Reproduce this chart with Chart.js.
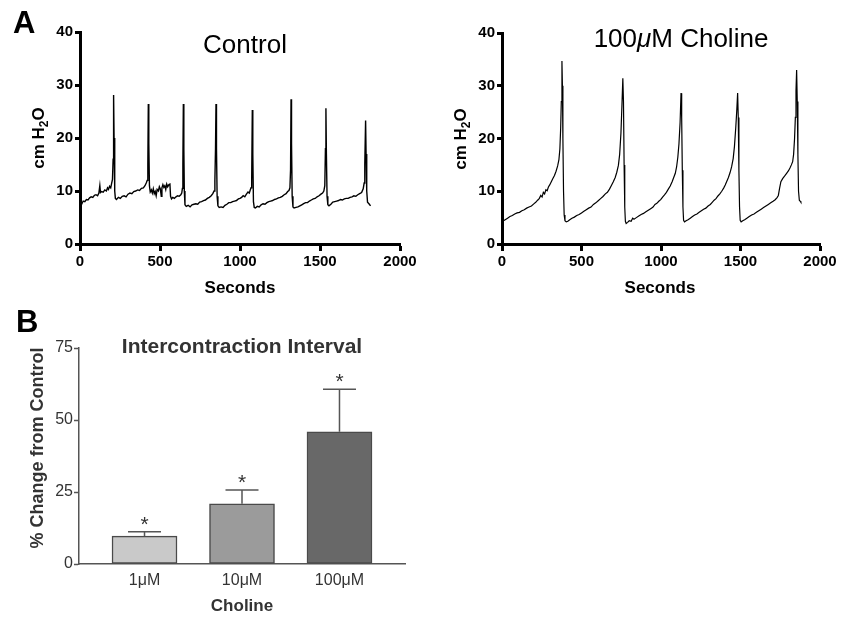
<!DOCTYPE html>
<html>
<head>
<meta charset="utf-8">
<script src="https://cdn.jsdelivr.net/npm/chart.js@4.4.0/dist/chart.umd.min.js"></script>
<style>
  body { margin: 0; background: #fff; width: 841px; height: 618px; position: relative; overflow: hidden; }
  .panel { position: absolute; }
</style>
</head>
<body>
<div class="panel" style="left:0;top:0;width:420px;height:300px"><canvas id="controlChart"></canvas></div>
<div class="panel" style="left:420px;top:0;width:421px;height:300px"><canvas id="cholineChart"></canvas></div>
<div class="panel" style="left:0;top:300px;width:420px;height:318px"><canvas id="intervalChart"></canvas></div>
<script>
// --- data ---
// control trace: seconds / cm H2O
const controlTime = [
  0, 5, 12, 20, 30, 40, 50, 60, 70, 80, 90, 100, 110, 118, 124, 128, 135, 145, 155, 165, 172, 178, 185, 192, 198, 203, 207, 210, 213, 217, 221,
  228, 240, 252, 264, 276, 288, 300, 312, 324, 336, 348, 360, 372, 384, 396, 406, 414, 420, 424, 427, 430, 434, 439,
  446, 452, 458, 464, 470, 476, 482, 490, 496, 502, 508, 512, 518, 524, 530, 536, 542, 548, 556, 562, 566, 572,
  580, 590, 600, 610, 620, 630, 636, 640, 643, 646, 649, 652, 656,
  664, 676, 688, 700, 712, 724, 736, 748, 760, 772, 784, 796, 808, 820, 830, 838, 843, 847, 850, 853, 857, 862,
  870, 882, 894, 906, 918, 930, 942, 954, 966, 978, 990, 1000, 1010, 1020, 1030, 1040, 1050, 1058, 1064, 1069, 1073, 1077, 1080, 1084, 1089,
  1096, 1108, 1120, 1132, 1144, 1156, 1168, 1180, 1192, 1204, 1216, 1228, 1240, 1252, 1264, 1276, 1288, 1298, 1306, 1312, 1316, 1319, 1322, 1326, 1331,
  1338, 1350, 1362, 1374, 1386, 1398, 1410, 1422, 1434, 1446, 1458, 1470, 1482, 1494, 1506, 1516, 1524, 1530, 1534, 1537, 1540, 1544, 1549,
  1556, 1568, 1580, 1592, 1604, 1616, 1628, 1640, 1652, 1664, 1676, 1688, 1700, 1712, 1724, 1736, 1748, 1760, 1770, 1776, 1780, 1785, 1788, 1792, 1797,
  1806, 1816
];
const controlPressure = [
  7.4, 7.9, 7.6, 8.1, 8.0, 8.4, 8.3, 8.7, 8.9, 8.8, 9.2, 9.3, 9.1, 9.6, 11.0, 9.7, 9.9, 9.8, 10.2, 10.0, 10.6, 10.3, 10.9, 10.6, 11.5, 12.2, 16, 28.1, 20, 10, 8.6,
  8.4, 8.8, 8.6, 9.0, 9.1, 8.9, 9.4, 9.6, 9.5, 9.9, 10.0, 10.2, 10.1, 10.5, 10.6, 11.0, 11.5, 12.0, 15, 26.4, 19, 11, 9.8,
  10.2, 9.6, 10.4, 9.5, 9.9, 9.1, 10.3, 10.0, 10.8, 10.4, 9.0, 10.6, 11.2, 10.7, 11.0, 10.3, 11.3, 10.8, 11.2, 11.3, 9.0, 8.5,
  8.8, 8.6, 8.9, 9.1, 9.0, 9.3, 9.6, 10.5, 15, 26.4, 18, 10, 7.4,
  7.1, 7.3, 7.0, 7.4, 7.5, 7.6, 7.5, 7.9, 8.0, 8.2, 8.3, 8.6, 8.8, 9.1, 9.5, 10.0, 12, 18, 26.4, 18, 9, 7.2,
  6.9, 7.0, 6.9, 7.3, 7.5, 7.8, 7.8, 8.0, 8.1, 8.2, 8.5, 8.6, 8.8, 9.1, 8.9, 9.4, 9.8, 9.6, 10.2, 10.6, 12, 25.3, 17, 8, 6.9,
  6.8, 7.1, 7.0, 7.4, 7.6, 7.5, 7.8, 8.0, 8.1, 8.2, 8.4, 8.5, 8.7, 8.8, 9.0, 9.3, 9.5, 9.9, 10.1, 10.6, 14, 27.3, 19, 9, 7.0,
  6.8, 6.9, 7.0, 7.2, 7.4, 7.6, 7.8, 7.8, 8.1, 8.3, 8.5, 8.6, 8.9, 9.1, 9.4, 9.6, 10.0, 11, 18, 25.6, 17, 9, 7.4,
  7.2, 7.5, 7.9, 8.0, 8.1, 8.2, 8.4, 8.3, 8.5, 8.6, 8.6, 8.8, 8.9, 9.1, 9.0, 9.3, 9.5, 9.7, 10.4, 11.5, 15, 23.3, 17, 10, 7.9,
  7.6, 7.2
];

// 100 uM choline trace: seconds / cm H2O
const cholineTime = [
  0, 10, 20, 35, 50, 65, 80, 95, 110, 125, 140, 155, 170, 185, 200, 212, 224, 234, 244, 252, 260, 268, 276, 284, 292, 300, 310, 320, 330, 340, 350, 358, 364, 369, 373, 377, 380, 383, 387, 391,
  396, 404, 414, 426, 440, 455, 470, 485, 500, 515, 530, 545, 560, 575, 590, 605, 620, 635, 650, 663, 676, 688, 700, 712, 722, 732, 740, 748, 754, 760, 764, 768, 772, 776,
  781, 790, 800, 812, 822, 830, 845, 860, 875, 890, 905, 920, 935, 950, 962, 974, 986, 998, 1010, 1022, 1034, 1046, 1058, 1070, 1080, 1090, 1098, 1106, 1113, 1120, 1126, 1130, 1134, 1138, 1142,
  1148, 1158, 1170, 1184, 1198, 1212, 1226, 1240, 1254, 1268, 1282, 1296, 1310, 1322, 1334, 1346, 1358, 1370, 1382, 1394, 1404, 1414, 1424, 1434, 1444, 1454, 1462, 1470, 1476, 1482, 1486, 1490, 1494, 1498,
  1504, 1514, 1526, 1540, 1555, 1570, 1585, 1600, 1615, 1630, 1645, 1660, 1675, 1690, 1705, 1718, 1730, 1738, 1746, 1754, 1765, 1778, 1790, 1802, 1811, 1820, 1828, 1834, 1840, 1845, 1849, 1853, 1857, 1861, 1865, 1870,
  1876, 1880
];
const cholinePressure = [
  4.3, 4.4, 4.6, 4.9, 5.2, 5.4, 5.7, 5.9, 6.0, 6.3, 6.5, 6.8, 7.0, 7.2, 7.6, 7.9, 8.3, 8.6, 9.2, 8.9, 9.8, 9.5, 10.3, 10.1, 10.8, 11.2, 11.8, 12.4, 13.0, 13.8, 14.8, 16.0, 18, 22, 27, 34.7, 30, 20, 10, 5.5,
  4.4, 4.2, 4.3, 4.6, 4.9, 5.1, 5.4, 5.6, 5.9, 6.2, 6.5, 6.8, 7.0, 7.5, 7.8, 8.2, 8.6, 9.0, 9.5, 9.8, 10.4, 11.1, 11.8, 12.6, 13.6, 14.9, 17, 21, 26, 31.4, 27, 15, 7, 4.3,
  3.9, 4.1, 4.4, 4.3, 4.9, 4.7, 5.0, 5.3, 5.6, 5.8, 6.1, 6.4, 6.7, 7.0, 7.5, 7.7, 8.1, 8.4, 8.9, 9.3, 9.8, 10.4, 11.0, 11.8, 12.6, 13.4, 14.6, 16.5, 19, 23, 28.6, 24, 14, 7, 4.5,
  4.2, 4.4, 4.6, 4.9, 5.2, 5.5, 5.7, 6.0, 6.3, 6.6, 6.8, 7.2, 7.5, 7.9, 8.3, 8.6, 9.1, 9.5, 10.0, 10.6, 11.2, 11.9, 12.6, 13.5, 14.6, 16.2, 18.5, 22, 25, 28.6, 24, 14, 7, 4.5,
  4.2, 4.4, 4.6, 4.9, 5.2, 5.5, 5.7, 6.0, 6.3, 6.6, 6.9, 7.2, 7.5, 7.8, 8.1, 8.4, 8.8, 9.2, 10.6, 11.8, 12.4, 12.9, 13.4, 13.9, 14.4, 15.0, 15.6, 17, 20, 24, 29, 33.0, 27, 17, 10, 8.3,
  8.1, 7.9
];

const timeTicks = [0, 500, 1000, 1500, 2000];
const pressureTicks = [0, 10, 20, 30, 40];

// panel B: intercontraction interval, % change from control (mean, SEM)
const cholineDoses = ['1μM', '10μM', '100μM'];
const intervalChange = [9.7, 20.9, 45.9];
const intervalSem = [1.5, 4.8, 14.8];
const intervalTicks = [0, 25, 50, 75];

const FONT = '"Liberation Sans", Arial, sans-serif';

// draws free text (titles, panel letters, rotated labels with sub/italic parts)
function textPlugin(items) {
  return {
    id: 'panelText',
    afterDraw(chart) {
      const ctx = chart.ctx;
      items.forEach(item => {
        ctx.save();
        ctx.fillStyle = item.color || '#000';
        ctx.textBaseline = 'alphabetic';
        ctx.textAlign = 'left';
        ctx.translate(item.x, item.y);
        if (item.rotate) ctx.rotate(-Math.PI / 2);
        const parts = item.parts || [{ text: item.text }];
        const widths = parts.map(p => { ctx.font = p.font || item.font; return ctx.measureText(p.text).width; });
        const total = widths.reduce((a, b) => a + b, 0);
        let x = item.align === 'left' ? 0 : -total / 2;
        parts.forEach((p, i) => {
          ctx.font = p.font || item.font;
          ctx.fillText(p.text, x, p.dy || 0);
          x += widths[i];
        });
        ctx.restore();
      });
    }
  };
}

function traceChart(id, times, values, lineWidth, yWidth, pad, items) {
  const tickFont = { family: FONT, size: 15, weight: 'bold' };
  return new Chart(document.getElementById(id), {
    type: 'line',
    data: {
      datasets: [{
        data: times.map((t, i) => ({ x: t, y: values[i] })),
        borderColor: '#000',
        borderWidth: lineWidth,
        pointRadius: 0,
        tension: 0,
        fill: false
      }]
    },
    options: {
      animation: false,
      responsive: true,
      maintainAspectRatio: false,
      layout: { padding: pad },
      plugins: { legend: { display: false }, tooltip: { enabled: false } },
      scales: {
        x: {
          type: 'linear', min: 0, max: 2000,
          afterBuildTicks: s => { s.ticks = timeTicks.map(v => ({ value: v })); },
          afterFit: s => { s.height = 56; },
          grid: { drawOnChartArea: false, drawTicks: true, tickLength: 7, tickWidth: 3, tickColor: '#000' },
          border: { display: true, width: 3, color: '#000' },
          ticks: { font: tickFont, color: '#000', padding: 2, maxRotation: 0, callback: v => String(v) }
        },
        y: {
          min: 0, max: 40,
          afterBuildTicks: s => { s.ticks = pressureTicks.map(v => ({ value: v })); },
          afterFit: s => { s.width = yWidth; },
          grid: { drawOnChartArea: false, drawTicks: true, tickLength: 5, tickWidth: 3, tickColor: '#000' },
          border: { display: true, width: 3, color: '#000' },
          ticks: { font: tickFont, color: '#000', padding: 2, callback: v => String(v) }
        }
      }
    },
    plugins: [textPlugin(items)]
  });
}

const yLabelParts = [
  { text: 'cm H', font: 'bold 17px ' + FONT },
  { text: '2', font: 'bold 12px ' + FONT, dy: 4 },
  { text: 'O', font: 'bold 17px ' + FONT }
];

traceChart('controlChart', controlTime, controlPressure, 1.4, 80,
  { top: 32, right: 20, left: 0, bottom: 0 },
  [
    { text: 'A', font: 'bold 31px ' + FONT, x: 13, y: 33, align: 'left' },
    { text: 'Control', font: '26px ' + FONT, x: 245, y: 53 },
    { text: 'Seconds', font: 'bold 17px ' + FONT, x: 240, y: 293 },
    { parts: yLabelParts, x: 44, y: 138, rotate: true }
  ]);

traceChart('cholineChart', cholineTime, cholinePressure, 1.2, 82,
  { top: 33, right: 21, left: 0, bottom: 0 },
  [
    { parts: [
        { text: '100', font: '26px ' + FONT },
        { text: 'μ', font: 'italic 26px ' + FONT },
        { text: 'M Choline', font: '26px ' + FONT }
      ], x: 261, y: 47 },
    { text: 'Seconds', font: 'bold 17px ' + FONT, x: 240, y: 293 },
    { parts: yLabelParts, x: 46, y: 139, rotate: true }
  ]);

// error bars + asterisks for panel B
const errorBars = {
  id: 'errorBars',
  afterDatasetsDraw(chart) {
    const ctx = chart.ctx;
    const y = chart.scales.y;
    const meta = chart.getDatasetMeta(0);
    ctx.save();
    ctx.strokeStyle = '#555';
    ctx.lineWidth = 1.5;
    ctx.fillStyle = '#333';
    ctx.font = '21px ' + FONT;
    ctx.textAlign = 'center';
    ctx.textBaseline = 'alphabetic';
    meta.data.forEach((bar, i) => {
      const top = y.getPixelForValue(intervalChange[i] + intervalSem[i]);
      ctx.beginPath();
      ctx.moveTo(bar.x, bar.y);
      ctx.lineTo(bar.x, top);
      ctx.moveTo(bar.x - 16.5, top);
      ctx.lineTo(bar.x + 16.5, top);
      ctx.stroke();
      ctx.fillText('*', bar.x, top - 1);
    });
    ctx.restore();
  }
};

new Chart(document.getElementById('intervalChart'), {
  type: 'bar',
  data: {
    datasets: [{
      data: intervalChange.map((v, i) => ({ x: i, y: v })),
      backgroundColor: ['#c9c9c9', '#9b9b9b', '#686868'],
      borderColor: '#4a4a4a',
      borderWidth: 1.5,
      borderSkipped: false,
      barThickness: 65
    }]
  },
  options: {
    animation: false,
    responsive: true,
    maintainAspectRatio: false,
    layout: { padding: { top: 48, right: 15, left: 0, bottom: 0 } },
    plugins: { legend: { display: false }, tooltip: { enabled: false } },
    scales: {
      x: {
        type: 'linear', min: -0.672, max: 2.672, offset: false,
        afterBuildTicks: s => { s.ticks = cholineDoses.map((d, i) => ({ value: i })); },
        afterFit: s => { s.height = 54; },
        grid: { drawOnChartArea: false, drawTicks: false, offset: false },
        border: { display: true, width: 1.5, color: '#555' },
        ticks: { font: { family: FONT, size: 16 }, color: '#333', padding: 7, callback: (v, i) => cholineDoses[i] }
      },
      y: {
        min: 0, max: 75,
        afterBuildTicks: s => { s.ticks = intervalTicks.map(v => ({ value: v })); },
        afterFit: s => { s.width = 79; },
        grid: { drawOnChartArea: false, drawTicks: true, tickLength: 5, tickWidth: 1.5, tickColor: '#555' },
        border: { display: true, width: 1.5, color: '#555' },
        ticks: { font: { family: FONT, size: 16 }, color: '#333', padding: 1 }
      }
    }
  },
  plugins: [errorBars, textPlugin([
    { text: 'B', font: 'bold 31px ' + FONT, x: 16, y: 32, align: 'left' },
    { text: 'Intercontraction Interval', font: 'bold 21px ' + FONT, x: 242, y: 53, color: '#333' },
    { text: 'Choline', font: 'bold 17px ' + FONT, x: 242, y: 311, color: '#333' },
    { text: '% Change from Control', font: 'bold 18px ' + FONT, x: 43, y: 148, rotate: true, color: '#333' }
  ])]
});
</script>
</body>
</html>
